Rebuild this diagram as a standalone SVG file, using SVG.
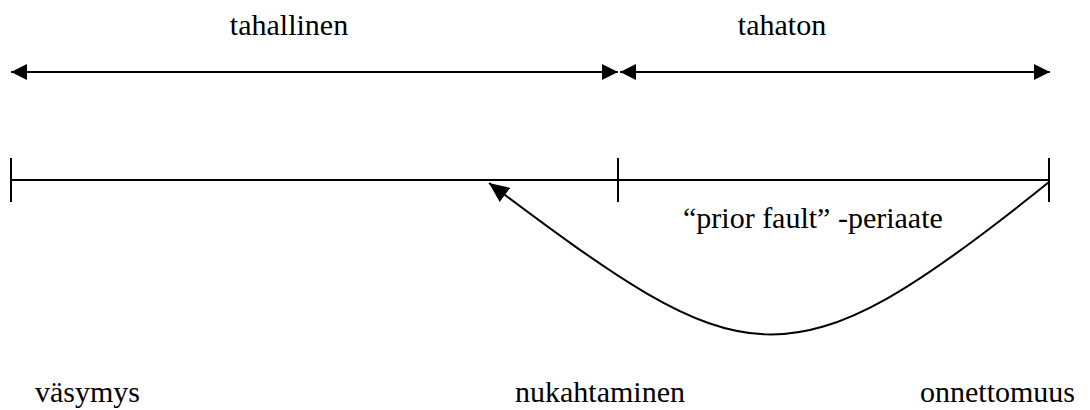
<svg xmlns="http://www.w3.org/2000/svg" width="1090" height="410" viewBox="0 0 1090 410">
<defs>
<style>
.ln{stroke:#000;stroke-width:2;fill:none}
.t{font-family:'Liberation Serif','Times New Roman',Times,serif;font-size:30px;fill:#000}
</style>
<marker id="ah" markerUnits="userSpaceOnUse" markerWidth="16" markerHeight="16" viewBox="0 0 15 15" refX="15" refY="7.5" orient="auto-start-reverse">
<path d="M0,0 L15,7.5 L0,15 z" fill="#000"/>
</marker>
<marker id="ah2" markerUnits="userSpaceOnUse" markerWidth="20" markerHeight="20" viewBox="0 0 18 16" refX="18" refY="8" orient="auto">
<path d="M0,0 L18,8 L0,16 z" fill="#000"/>
</marker>
</defs>
<rect width="1090" height="410" fill="#fff"/>
<g id="connectors">
<line class="ln" x1="11" y1="72" x2="618" y2="72" marker-start="url(#ah)" marker-end="url(#ah)"/>
<line class="ln" x1="620" y1="72" x2="1050" y2="72" marker-start="url(#ah)" marker-end="url(#ah)"/>
<path class="ln" d="M1049,182 C785,395 745,375 489,183" marker-end="url(#ah2)"/>
</g>
<g id="timeline">
<line class="ln" x1="11" y1="180" x2="1049" y2="180"/>
<line class="ln" x1="11" y1="158" x2="11" y2="202"/>
<line class="ln" x1="618" y1="158" x2="618" y2="202"/>
<line class="ln" x1="1049" y1="158" x2="1049" y2="202"/>
</g>
<g id="label-tahallinen"><text class="t" font-family="Liberation Serif, serif" x="289" y="35" text-anchor="middle">tahallinen</text></g>
<g id="label-tahaton"><text class="t" font-family="Liberation Serif, serif" x="782" y="35" text-anchor="middle">tahaton</text></g>
<g id="label-prior-fault"><text class="t" font-family="Liberation Serif, serif" x="683" y="228">“prior fault” -periaate</text></g>
<g id="label-vasymys"><text class="t" font-family="Liberation Serif, serif" x="35" y="402">väsymys</text></g>
<g id="label-nukahtaminen"><text class="t" font-family="Liberation Serif, serif" x="515" y="402">nukahtaminen</text></g>
<g id="label-onnettomuus"><text class="t" font-family="Liberation Serif, serif" x="920" y="402">onnettomuus</text></g>
</svg>
